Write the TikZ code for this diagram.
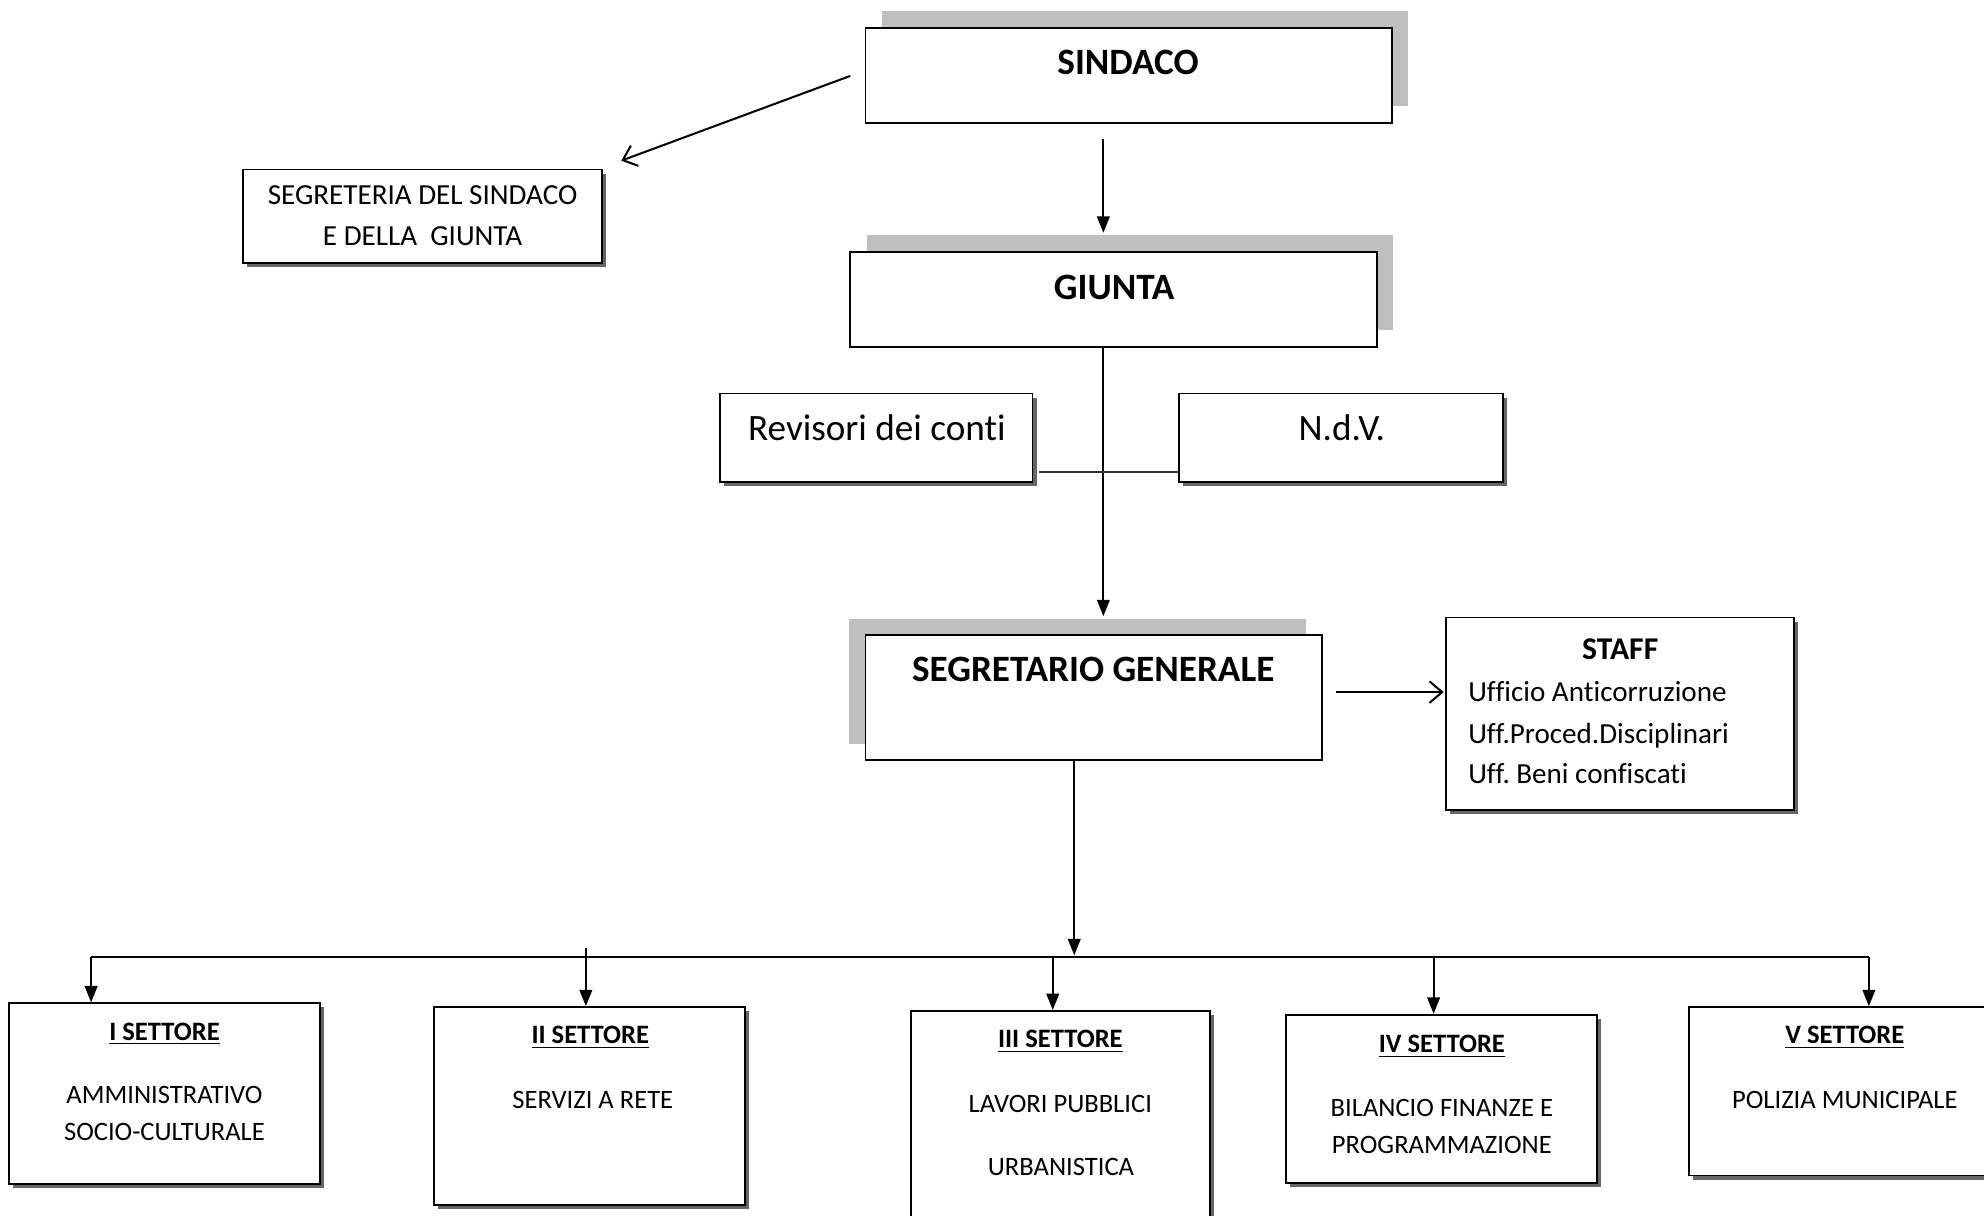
\documentclass[tikz,border=0pt]{standalone}
\usepackage{fontspec}
\setmainfont[Ligatures=NoCommon]{Carlito}
\usetikzlibrary{arrows.meta,shadows}
\begin{document}
\begin{tikzpicture}[x=0.5pt,y=-0.5pt,
  box/.style={draw=black, line width=0.75pt, fill=white, inner sep=0pt, rectangle},
  lsh/.style={general shadow={fill=black!25, shadow xshift=6.5pt, shadow yshift=6.5pt}},
  lshl/.style={general shadow={fill=black!25, shadow xshift=-6.5pt, shadow yshift=6.5pt}},
  dsh/.style={general shadow={fill=black!60, shadow xshift=1.6pt, shadow yshift=-1.6pt}},
  tx/.style={inner sep=0pt, anchor=base},
  fbig/.style={font=\fontsize{14.7}{17}\selectfont\bfseries},
  freg/.style={font=\fontsize{14.7}{17}\selectfont},
  fmid/.style={font=\fontsize{11.5}{14}\selectfont\frenchspacing},
  fstb/.style={font=\fontsize{12.5}{15}\selectfont\bfseries},
  fsm/.style={font=\fontsize{10.5}{13}\selectfont},
  fsmb/.style={font=\fontsize{10.5}{13}\selectfont\bfseries},
  conn/.style={draw=black, line width=0.8pt},
  arrF/.style={conn, -{Triangle[length=6.5pt,width=5pt]}},
  arrO/.style={conn, -{Straight Barb[length=5pt,width=8.5pt]}}
]
\path[use as bounding box, fill=white] (0,0) rectangle (1568,961);
\clip (0,0) rectangle (1568,961);

% boxes
\node[box, lsh, minimum width=208pt, minimum height=37.5pt] (sind) at (892,59.5) {};
\node[box, lsh, minimum width=208pt, minimum height=37.5pt] (giunta) at (880,236.5) {};
\node[box, dsh, minimum width=142pt, minimum height=37pt] (segr) at (334,171) {};
\node[box, dsh, minimum width=123.5pt, minimum height=35pt] (rev) at (692.5,346) {};
\node[box, dsh, minimum width=128pt, minimum height=35pt] (ndv) at (1060,346) {};
\node[box, lshl, minimum width=180.5pt, minimum height=49.5pt] (sg) at (864.5,551.5) {};
\node[box, dsh, minimum width=137.5pt, minimum height=76pt] (staff) at (1280.5,564) {};
\node[box, dsh, minimum width=123pt, minimum height=71.5pt] (s1) at (130,864.5) {};
\node[box, dsh, minimum width=123pt, minimum height=78pt] (s2) at (466,874) {};
\node[box, dsh, minimum width=118pt, minimum height=90.5pt] (s3) at (838,889.5) {};
\node[box, dsh, minimum width=123pt, minimum height=66.5pt] (s4) at (1139,868.5) {};
\node[box, dsh, minimum width=127.5pt, minimum height=66.5pt] (s5) at (1462.5,862.5) {};

% texts
\node[tx, fbig] (tsind) at (891.5,58.5) {SINDACO};
\node[tx, fbig] (tgiunta) at (880.5,236.5) {GIUNTA};
\node[tx, fmid] (tsegr1) at (334,162) {SEGRETERIA DEL SINDACO};
\node[tx, fmid] (tsegr2) at (334,194) {E DELLA\ \ GIUNTA};
\node[tx, freg] (trev) at (693,348) {Revisori dei conti};
\node[tx, freg] (tndv) at (1060.5,348) {N.d.V.};
\node[tx, fbig] (tsg) at (864,538.5) {SEGRETARIO GENERALE};
\node[tx, fstb] (tstaff) at (1280.5,521) {STAFF};
\node[tx, fmid, anchor=base west] (tst1) at (1160,554.5) {Ufficio Anticorruzione};
\node[tx, fmid, anchor=base west] (tst2) at (1160,587.5) {Uff.Proced.Disciplinari};
\node[tx, fmid, anchor=base west] (tst3) at (1160,619.5) {Uff. Beni confiscati};

\node[tx, fsmb] (ts1a) at (130,822) {\underline{I SETTORE}};
\node[tx, fsm] (ts1b) at (130,872) {AMMINISTRATIVO};
\node[tx, fsm] (ts1c) at (130,901) {SOCIO-CULTURALE};
\node[tx, fsmb] (ts2a) at (466.5,825) {\underline{II SETTORE}};
\node[tx, fsm] (ts2b) at (468.5,876) {SERVIZI A RETE};
\node[tx, fsmb] (ts3a) at (838,828) {\underline{III SETTORE}};
\node[tx, fsm] (ts3b) at (838,879) {LAVORI PUBBLICI};
\node[tx, fsm] (ts3c) at (838.5,929) {URBANISTICA};
\node[tx, fsmb] (ts4a) at (1139.5,832) {\underline{IV SETTORE}};
\node[tx, fsm] (ts4b) at (1139.5,882) {BILANCIO FINANZE E};
\node[tx, fsm] (ts4c) at (1139.5,912) {PROGRAMMAZIONE};
\node[tx, fsmb] (ts5a) at (1458,825) {\underline{V SETTORE}};
\node[tx, fsm] (ts5b) at (1458,876) {POLIZIA MUNICIPALE};

% connector ends
\coordinate (a1) at (872,110);
\coordinate (a2) at (872,184);
\coordinate (b1) at (672,60);
\coordinate (b2) at (491,127);
\coordinate (g2) at (872,487);
\coordinate (h) at (0,373);
\coordinate (k1) at (1056,547);
\coordinate (k2) at (1141,547);
\coordinate (m) at (849,755);
\coordinate (bl) at (72,756);
\coordinate (br) at (1477,756);
\coordinate (d2) at (463,749);
\coordinate (d3) at (832,756);
\coordinate (d4) at (1133,756);

% connectors
\draw[arrF] (a1) -- (a2);
\draw[arrO] (b1) -- (b2);
\draw[arrF] (giunta.south -| g2) -- (g2);
\draw[draw=black!80, line width=0.5pt] (rev.east |- h) ++(4,0) -- (ndv.west |- h);
\draw[arrO] (k1) -- (k2);
\draw[arrF] (sg.south -| m) -- (m);
\draw[conn] (bl) -- (br);
\draw[arrF] (bl) -- (bl |- s1.north);
\draw[arrF] (d2) -- (d2 |- s2.north);
\draw[arrF] (d3) -- (d3 |- s3.north);
\draw[arrF] (d4) -- (d4 |- s4.north);
\draw[arrF] (br) -- (br |- s5.north);
\end{tikzpicture}
\end{document}
